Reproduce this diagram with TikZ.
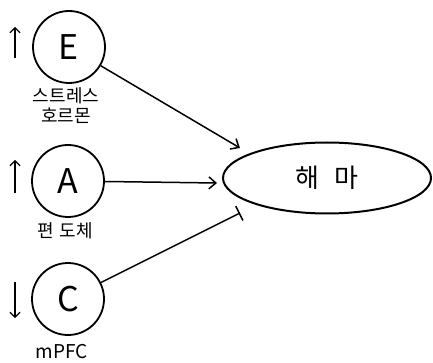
\documentclass[tikz,border=0pt]{standalone}
\usepackage{fontspec}
\setmainfont{Noto Sans CJK KR}
\usetikzlibrary{arrows.meta,shapes.geometric}
\begin{document}
\begin{tikzpicture}[x=1pt,y=-1pt,
  region/.style={circle,draw,line width=1.8pt,minimum size=72pt,inner sep=0pt,font=\fontsize{34}{36}\selectfont},
  lbl/.style={font=\fontsize{18}{19}\selectfont,align=center,inner sep=0pt},
  conn/.style={line width=1.5pt},
  updown/.style={line width=1.2pt,-{Straight Barb[length=5pt,width=10pt]}}]
\useasboundingbox (0,0) rectangle (433,363);
\node[region] (E) at (69,47) {E};
\node[region] (A) at (68,181) {A};
\node[region] (C) at (68,299) {C};
\node[ellipse,draw,line width=2pt,minimum width=208pt,minimum height=71pt,inner sep=0pt,font=\fontsize{26}{28}\selectfont] (H) at (327,178) {해\hspace{16pt}마};
\node[lbl] (eL) at (66,106) {스트레스\\[1pt]호르몬};
\node[lbl] (aL) at (65,231) {편\hspace{6pt}도체};
\node[lbl,font=\fontsize{19}{20}\selectfont] (cL) at (62,352) {mPFC};
\coordinate (e1) at (15,58); \coordinate (e2) at (15,27);
\coordinate (a1) at (15,193); \coordinate (a2) at (15,160);
\coordinate (c1) at (15,282); \coordinate (c2) at (15,318);
\draw[updown] (e1) -- (e2);
\draw[updown] (a1) -- (a2);
\draw[updown] (c1) -- (c2);
\coordinate (hE) at (240,148);
\coordinate (hA) at (217,183);
\coordinate (hC) at (240,213);
\draw[conn,-{Straight Barb[length=7pt,width=12pt]}] (E) -- (hE);
\draw[conn,-{Straight Barb[length=7pt,width=12pt]}] (A) -- (hA);
\draw[conn,-{Bar[width=16pt]}] (C) -- (hC);
\end{tikzpicture}
\end{document}
